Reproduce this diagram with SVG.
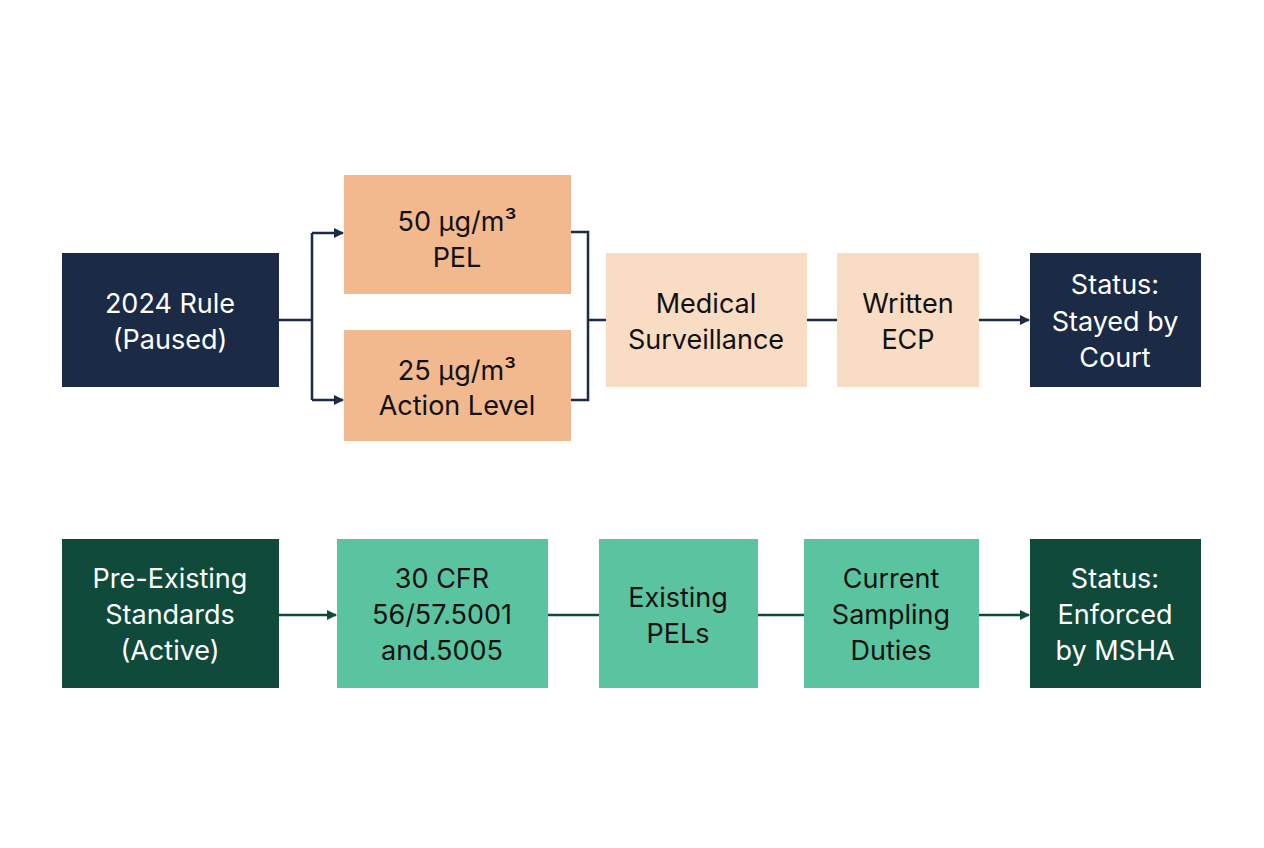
<svg xmlns="http://www.w3.org/2000/svg" width="1264" height="848" viewBox="0 0 1264 848">
<defs>
<style>
text{font-family:"Inter","Noto Sans",sans-serif;font-size:27px;text-anchor:middle}
.navy{fill:#1b2a45}.peach{fill:#f2b98f}.lpeach{fill:#f8dcc4}.dg{fill:#0f4a3a}.gr{fill:#5ac4a0}
.w{fill:#ffffff}.d{fill:#111111}
.c1{stroke:#1b2a45;stroke-width:2.5;fill:none}
.c2{stroke:#0f4a3a;stroke-width:2.5;fill:none}
</style>
<marker id="a1" markerWidth="10" markerHeight="10" refX="9" refY="5" orient="auto" markerUnits="userSpaceOnUse" viewBox="0 0 10 10"><path d="M0,0 L10,5 L0,10z" fill="#1b2a45"/></marker>
<marker id="a2" markerWidth="10" markerHeight="10" refX="9" refY="5" orient="auto" markerUnits="userSpaceOnUse" viewBox="0 0 10 10"><path d="M0,0 L10,5 L0,10z" fill="#0f4a3a"/></marker>
</defs>
<rect width="1264" height="848" fill="#ffffff"/>
<g id="connectors">
<path class="c1" d="M279,320 H312 M312,233 V400 M312,233 H343" marker-end="url(#a1)"/>
<path class="c1" d="M312,400 H343" marker-end="url(#a1)"/>
<path class="c1" d="M571,232 H588 V400 H571 M588,320 H606"/>
<path class="c1" d="M807,320 H837"/>
<path class="c1" d="M979,320 H1029" marker-end="url(#a1)"/>
<path class="c2" d="M279,615 H336" marker-end="url(#a2)"/>
<path class="c2" d="M548,615 H599"/>
<path class="c2" d="M758,615 H804"/>
<path class="c2" d="M979,615 H1029" marker-end="url(#a2)"/>
</g>
<g id="rule2024"><rect class="navy" x="62" y="253" width="217" height="134"/><text class="w" x="170" y="313">2024 Rule</text><text class="w" x="170" y="349">(Paused)</text></g>
<g id="pel50"><rect class="peach" x="344" y="175" width="227" height="119"/><text class="d" x="457" y="231">50 µg/m³</text><text class="d" x="457" y="267">PEL</text></g>
<g id="al25"><rect class="peach" x="344" y="330" width="227" height="111"/><text class="d" x="457" y="380">25 µg/m³</text><text class="d" x="457" y="415">Action Level</text></g>
<g id="medical"><rect class="lpeach" x="606" y="253" width="201" height="134"/><text class="d" x="706" y="313">Medical</text><text class="d" x="706" y="349">Surveillance</text></g>
<g id="ecp"><rect class="lpeach" x="837" y="253" width="142" height="134"/><text class="d" x="908" y="313">Written</text><text class="d" x="908" y="349">ECP</text></g>
<g id="stayed"><rect class="navy" x="1030" y="253" width="171" height="134"/><text class="w" x="1115" y="294">Status:</text><text class="w" x="1115" y="331">Stayed by</text><text class="w" x="1115" y="367">Court</text></g>
<g id="preexisting"><rect class="dg" x="62" y="539" width="217" height="149"/><text class="w" x="170" y="588">Pre-Existing</text><text class="w" x="170" y="624">Standards</text><text class="w" x="170" y="660">(Active)</text></g>
<g id="cfr"><rect class="gr" x="337" y="539" width="211" height="149"/><text class="d" x="442" y="588">30 CFR</text><text class="d" x="442" y="624">56/57.5001</text><text class="d" x="442" y="660">and.5005</text></g>
<g id="pels"><rect class="gr" x="599" y="539" width="159" height="149"/><text class="d" x="678" y="607">Existing</text><text class="d" x="678" y="643">PELs</text></g>
<g id="sampling"><rect class="gr" x="804" y="539" width="175" height="149"/><text class="d" x="891" y="588">Current</text><text class="d" x="891" y="624">Sampling</text><text class="d" x="891" y="660">Duties</text></g>
<g id="enforced"><rect class="dg" x="1030" y="539" width="171" height="149"/><text class="w" x="1115" y="588">Status:</text><text class="w" x="1115" y="624">Enforced</text><text class="w" x="1115" y="660">by MSHA</text></g>
</svg>
